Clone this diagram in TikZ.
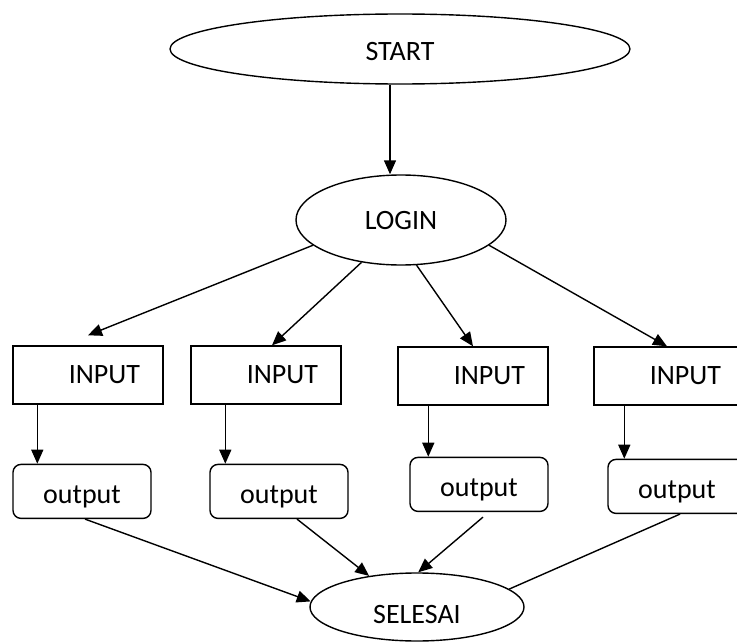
\documentclass[tikz,border=0pt]{standalone}
\usepackage{fontspec}
\setmainfont{Carlito}
\usetikzlibrary{shapes,arrows.meta,positioning}

\begin{document}
\begin{tikzpicture}[
    x=1pt, y=-1pt,
    line width=1.4pt,
    font=\fontsize{28}{34}\selectfont,
    oval/.style={draw, ellipse, inner sep=0pt, text depth=0pt},
    inbox/.style={draw, text width=104pt, inner xsep=23pt, minimum height=58pt, align=right},
    obox/.style={draw, rounded corners=8pt, minimum width=138pt, minimum height=54pt, text height=24pt, text depth=0pt},
    arrow/.style={-{Triangle[length=14pt,width=12pt]}}
]
\useasboundingbox (0,0) rectangle (737,642);

\node (start) [oval, minimum width=460pt, minimum height=70pt, text height=24pt] at (400,49) {START};
\node (login) [oval, minimum width=210pt, minimum height=90pt] at (401,220) {LOGIN};

\node (in1) [inbox] at (88,375) {INPUT};
\node (in2) [inbox] at (266,375) {INPUT};
\node (in3) [inbox] at (473,376) {INPUT};
\node (in4) [inbox] at (669,376) {INPUT};

\node (out1) [obox, below right=59pt and 0pt of in1.south west] {output};
\node (out2) [obox, below right=59pt and 19pt of in2.south west] {output};
\node (out3) [obox, below right=51pt and 12pt of in3.south west] {output};
\node (out4) [obox, below right=53pt and 14pt of in4.south west] {output};

\node (selesai) [oval, minimum width=214pt, minimum height=68pt, text height=32pt] at (417,607) {SELESAI};

\draw [arrow] ([xshift=-10pt]start.south) -- ([xshift=-11pt]login.north);

\draw [arrow] (login.196) -- ([yshift=10pt]in1.north);
\draw [arrow] (login.227) -- ([xshift=6pt]in2.north);
\draw [arrow] (login.289) -- (in3.north);
\draw [arrow] (login.344) -- ([xshift=-2pt]in4.north);

\draw [arrow] ([xshift=25pt]in1.south west) -- ([xshift=25pt]in1.south west |- out1.north);
\draw [arrow] ([xshift=35pt]in2.south west) -- ([xshift=35pt]in2.south west |- out2.north);
\draw [arrow] ([xshift=31pt]in3.south west) -- ([xshift=31pt]in3.south west |- out3.north);
\draw [arrow] ([xshift=31pt]in4.south west) -- ([xshift=31pt]in4.south west |- out4.north);

\draw [arrow] ([xshift=3pt]out1.south) -- (selesai.177);
\draw [arrow] ([xshift=18pt]out2.south) -- (selesai.147);
\draw [arrow] ([xshift=4pt,yshift=-5pt]out3.south) -- (selesai.88);
\draw ([xshift=3pt]out4.south) -- (selesai.11);

\end{tikzpicture}
\end{document}
